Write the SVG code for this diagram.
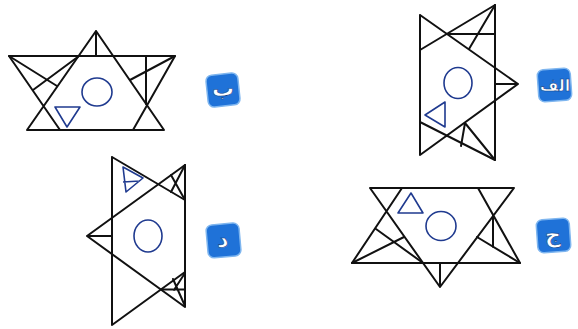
<svg xmlns="http://www.w3.org/2000/svg" width="578" height="329" viewBox="0 0 578 329">
<style>
.ln{stroke:#111;stroke-width:2;fill:none;stroke-linecap:round;stroke-linejoin:round}
.bl{stroke:#1f3a8f;stroke-width:1.6;fill:none;stroke-linejoin:round}
.tag{fill:#1f72d8;stroke:#7fb6ef;stroke-width:1.5}
.tt{fill:#fff;stroke:#0d3f8a;stroke-width:0.6;font-family:"DejaVu Sans",sans-serif;font-weight:bold;text-anchor:middle}
</style>
<rect width="578" height="329" fill="#fff"/>
<g id="fig-b">
<g class="ln">
<path d="M9,56 L175,56 M96,31 L27,130 L164,130 Z M9,56 L60,130 M175,56 L133,130 M96,31 L96,56"/>
<path d="M9,56 L57,86 M79,56 L33,90"/>
<path d="M146,56 L146,104 M175,56 L130,80"/>
</g>
<path class="bl" d="M55,107 L80,107 L67,127 Z"/>
<ellipse class="bl" cx="97" cy="92" rx="15" ry="14"/>
</g>
<g id="label-b">
<rect class="tag" x="207" y="74" width="32" height="32" rx="6" transform="rotate(-6 223 90)"/>
<text class="tt" x="223" y="96" font-size="22">ب</text>
</g>
<g id="fig-alef">
<g class="ln">
<path d="M495,5 L495,160 M420,15 L420,155 M420,15 L518,84 L420,155 M495,5 L420,50 M495,160 L420,122 M518,84 L495,84"/>
<path d="M447,34 L495,34 M495,5 L469,49"/>
<path d="M495,160 L465,123 M465,123 L461,146"/>
</g>
<path class="bl" d="M425,115 L445,102 L445,127 Z"/>
<ellipse class="bl" cx="458" cy="83" rx="14" ry="15.5"/>
</g>
<g id="label-alef">
<rect class="tag" x="538" y="69" width="33" height="32" rx="6" transform="rotate(-4 555 85)"/>
<text class="tt" x="555" y="91" font-size="16">الف</text>
</g>
<g id="fig-dal">
<g class="ln">
<path d="M112,157 L112,325 M185,165 L185,307 M185,165 L87,236 L185,307 M112,157 L185,200 M112,325 L185,272 M87,236 L112,236"/>
<path d="M185,165 L171,192 M185,200 L171,175"/>
<path d="M161,289.5 L185,289.5 M185,273 L174,290 M173,279 L185,306"/>
</g>
<path class="bl" d="M123,167 L143,178 L126,192 Z M123,182 L140,181"/>
<ellipse class="bl" cx="148" cy="236" rx="14" ry="16"/>
</g>
<g id="label-dal">
<rect class="tag" x="207" y="224" width="33" height="33" rx="6" transform="rotate(-5 223 240)"/>
<text class="tt" x="223" y="247" font-size="22">د</text>
</g>
<g id="fig-jim">
<g class="ln">
<path d="M370,188 L514,188 L440,287 Z M352,263 L520,263 M352,263 L402,188 M520,263 L478,188 M440,263 L440,287"/>
<path d="M352,263 L404,237 M423,263 L376,229"/>
<path d="M493,215.5 L493,247 M520,263 L477,237"/>
</g>
<path class="bl" d="M398,213 L423,213 L411,193 Z"/>
<ellipse class="bl" cx="441" cy="226" rx="15" ry="14.5"/>
</g>
<g id="label-jim">
<rect class="tag" x="537" y="219" width="33" height="33" rx="6" transform="rotate(-4 553 235)"/>
<text class="tt" x="553" y="242" font-size="22">ج</text>
</g>
</svg>
